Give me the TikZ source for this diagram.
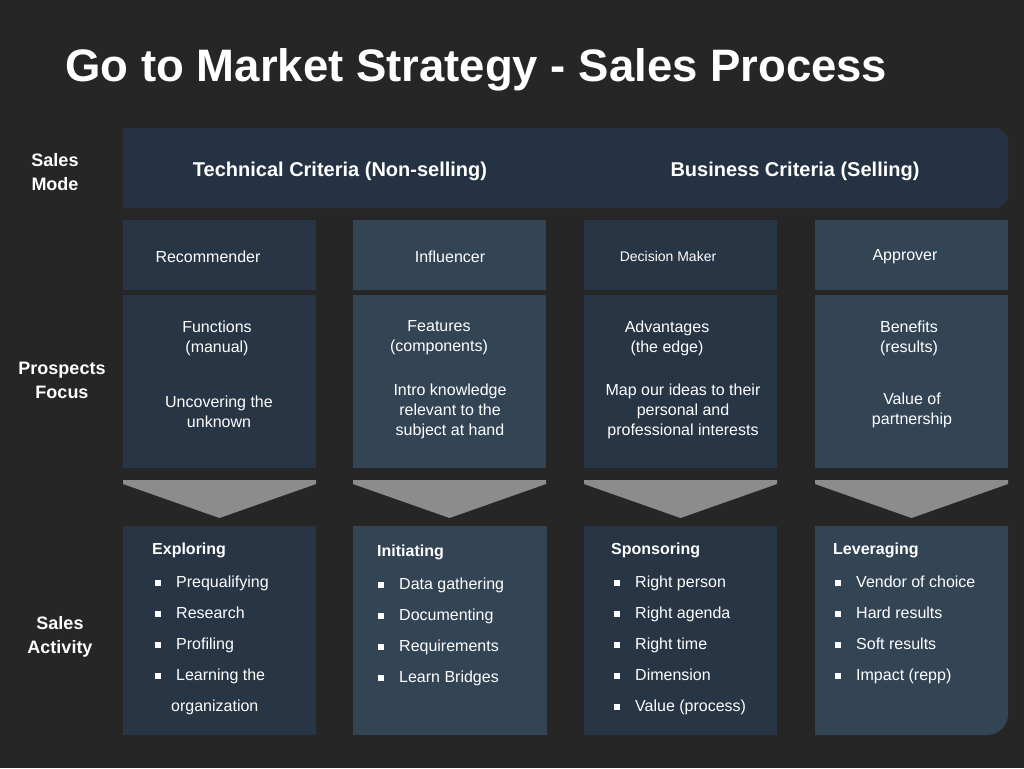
\documentclass[tikz,border=0pt]{standalone}
\usepackage{fontspec}
\setmainfont{Liberation Sans}
\definecolor{bg}{HTML}{262626}
\definecolor{hdr}{HTML}{243243}
\definecolor{dk}{HTML}{283545}
\definecolor{lt}{HTML}{334455}
\definecolor{tri}{HTML}{8C8C8C}
\begin{document}
\begin{tikzpicture}[x=1pt,y=-1pt,
  txt/.style={text=white,font=\fontsize{16}{20}\selectfont,align=center},
  lbl/.style={text=white,font=\bfseries\fontsize{18}{24}\selectfont,align=center},
  hd/.style={text=white,font=\bfseries\fontsize{20}{24}\selectfont,align=center},
  blist/.style={text=white,font=\fontsize{16}{31}\selectfont,align=left,anchor=north west,inner sep=0pt}]
\fill[bg] (0,0) rectangle (1024,768);
\node[anchor=west,text=white,font=\bfseries\fontsize{45.5}{50}\selectfont] (title) at (62,70) {Go to Market Strategy - Sales Process};
\fill[hdr] (123,208) -- (123,128) {[rounded corners=14] -- (1008,128) -- (1008,208)} -- cycle;
\node[hd] (tc) at (340,171) {Technical Criteria (Non-selling)};
\node[hd] (bc) at (795,171) {Business Criteria (Selling)};
\node[lbl] (sm) at (55,172) {Sales\\Mode};
\node[lbl] (pf) at (62,380) {Prospects\\Focus};
\node[lbl] (sa) at (60,637) {Sales\\Activity};
\foreach \x/\c [count=\i] in {123/dk,353/lt,584/dk,815/lt}{
  \fill[\c] (\x,220) rectangle (\x+193,290);
  \fill[\c] (\x,295) rectangle (\x+193,468);
  \fill[tri] (\x,480) -- (\x+193,480) -- (\x+193,484) -- (\x+96.5,518) -- (\x,484) -- cycle;
}
\fill[dk] (123,526) rectangle (316,735);
\fill[lt] (353,526) rectangle (547,735);
\fill[dk] (584,526) rectangle (777,735);
\fill[lt] (815,735) -- (815,526) -- (1008,526) {[rounded corners=21] -- (1008,735)} -- cycle;
% row 1
\node[txt] (r1) at (208,257) {Recommender};
\node[txt] (r2) at (450,257) {Influencer};
\node[txt,font=\fontsize{14}{18}\selectfont] (r3) at (668,256) {Decision Maker};
\node[txt] (r4) at (905,257) {Approver};
% row 2
\node[txt] at (217,338) {Functions\\(manual)};
\node[txt] at (219,412) {Uncovering the\\unknown};
\node[txt] at (439,338) {Features\\(components)};
\node[txt] at (450,411) {Intro knowledge\\relevant to the\\subject at hand};
\node[txt] at (667,338) {Advantages\\(the edge)};
\node[txt] at (683,411) {Map our ideas to their\\personal and\\professional interests};
\node[txt] at (909,338) {Benefits\\(results)};
\node[txt] at (912,410) {Value of\\partnership};
% row 3
\newcommand{\bl}{\raisebox{0.2ex}{\rule{6pt}{6pt}}\hspace{15pt}}
\node[blist,font=\bfseries\fontsize{16}{20}\selectfont] at (152,543) {Exploring};
\node[blist] at (155,576) {\bl Prequalifying\\\bl Research\\\bl Profiling\\\bl Learning the\\\hspace{16pt}organization};
\node[blist,font=\bfseries\fontsize{16}{20}\selectfont] at (377,545) {Initiating};
\node[blist] at (378,578) {\bl Data gathering\\\bl Documenting\\\bl Requirements\\\bl Learn Bridges};
\node[blist,font=\bfseries\fontsize{16}{20}\selectfont] at (611,543) {Sponsoring};
\node[blist] at (614,576) {\bl Right person\\\bl Right agenda\\\bl Right time\\\bl Dimension\\\bl Value (process)};
\node[blist,font=\bfseries\fontsize{16}{20}\selectfont] at (833,543) {Leveraging};
\node[blist] at (835,576) {\bl Vendor of choice\\\bl Hard results\\\bl Soft results\\\bl Impact (repp)};
\end{tikzpicture}
\end{document}
